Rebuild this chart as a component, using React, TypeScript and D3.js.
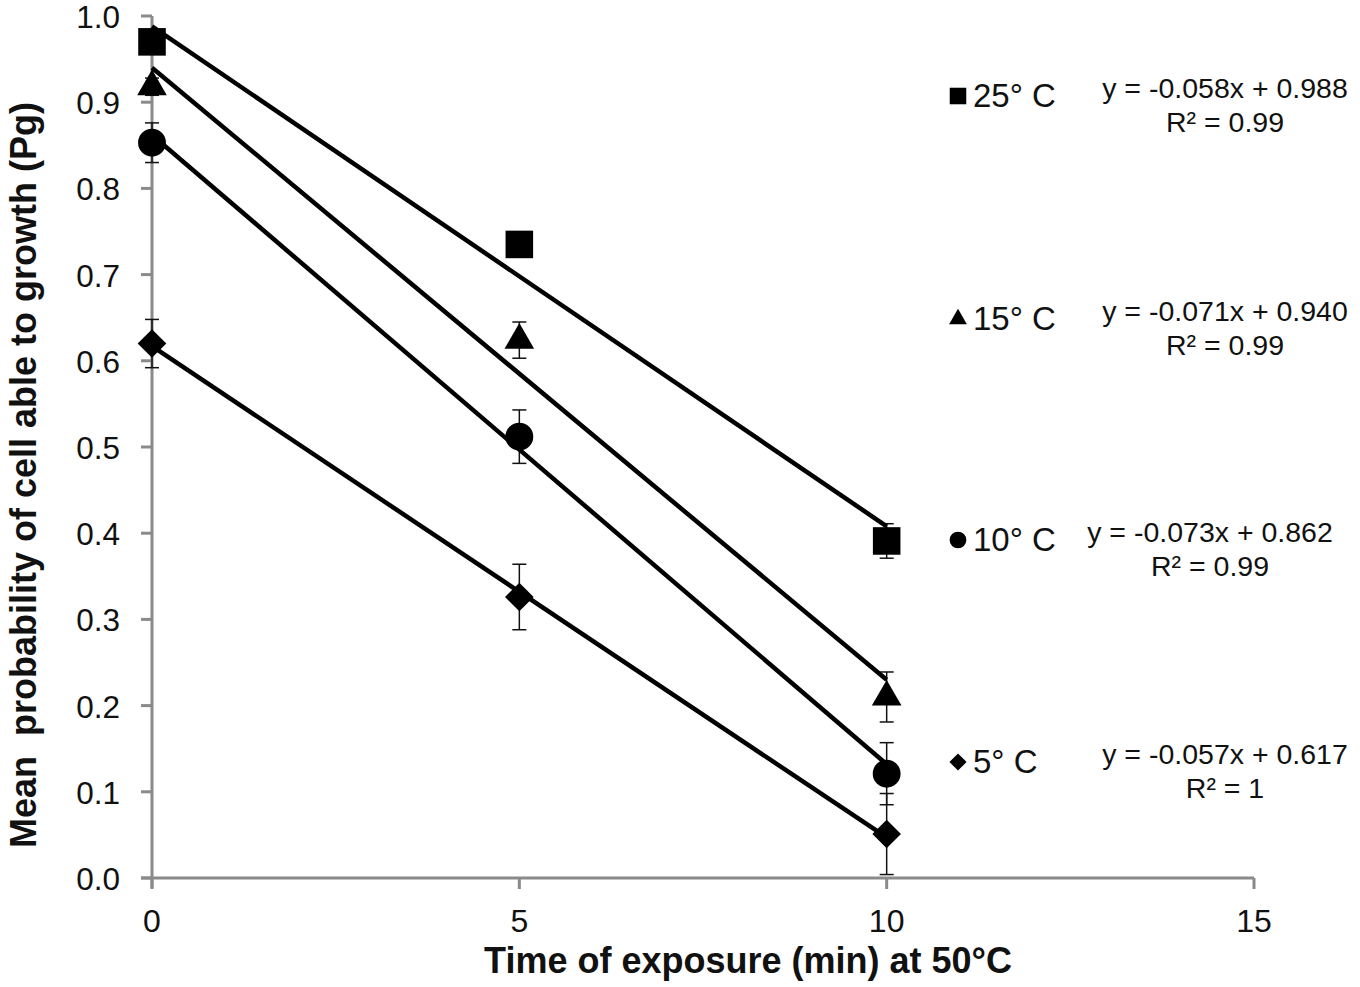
import React from 'react';
import * as d3 from 'd3';

// exposure times (min)
const times = [0, 5, 10];

const seriesNames = ['25° C', '15° C', '10° C', '5° C'];
const seriesShapes = ['square', 'triangle', 'circle', 'diamond'];

// mean Pg per series
const pg25 = [0.970, 0.735, 0.391];
const pg15 = [0.918, 0.624, 0.210];
const pg10 = [0.853, 0.512, 0.121];
const pg5 = [0.620, 0.326, 0.051];

// error bar half-widths
const err25 = [0.01, 0.01, 0.02];
const err15 = [0.01, 0.021, 0.029];
const err10 = [0.023, 0.031, 0.036];
const err5 = [0.028, 0.038, 0.047];

// fitted lines (slope, intercept) and R² as printed
const slopes = [-0.058, -0.071, -0.073, -0.057];
const intercepts = [0.988, 0.940, 0.862, 0.617];
const rSquared = ['0.99', '0.99', '0.99', '1'];

const xTicks = [0, 5, 10, 15];
const yTicks = [0, 0.1, 0.2, 0.3, 0.4, 0.5, 0.6, 0.7, 0.8, 0.9, 1.0];

const W = 1360;
const H = 987;
const FONT = 'Liberation Sans, Arial, sans-serif';
const AXIS = '#8a8a8a';

const values = [pg25, pg15, pg10, pg5];
const errors = [err25, err15, err10, err5];

// where each legend row sits
const legendRows = [
  { y: 96, eqX: 1225 },
  { y: 319, eqX: 1225 },
  { y: 540, eqX: 1210 },
  { y: 762, eqX: 1225 },
];

const fmt3 = (v: number) => d3.format('.3f')(v).replace('\u2212', '-');

function markerPath(shape: string, big: boolean): string {
  const k = big ? 1 : 0.36;
  switch (shape) {
    case 'square':
      return d3.symbol(d3.symbolSquare, 760 * k)()!;
    case 'triangle':
      return d3.symbol(d3.symbolTriangle, 380 * k)()!;
    case 'circle':
      return d3.symbol(d3.symbolCircle, 580 * k * 1.05)()!;
    default:
      return d3.symbol(d3.symbolSquare, 390 * k * 1.05)()!;
  }
}

const Marker: React.FC<{ shape: string; x: number; y: number; big: boolean }> = ({ shape, x, y, big }) => (
  <path
    d={markerPath(shape, big)}
    transform={`translate(${x},${y})${shape === 'diamond' ? ' rotate(45)' : ''}`}
    fill="#000"
  />
);

export default function App() {
  const x = d3.scaleLinear().domain([0, 15]).range([152, 1254]);
  const y = d3.scaleLinear().domain([0, 1]).range([878, 16]);

  return (
    <div style={{ position: 'absolute', left: 0, top: 0, background: '#fff' }}>
      <svg width={W} height={H} style={{ display: 'block' }} fontFamily={FONT}>
        <rect width={W} height={H} fill="#fff" />

        {/* axes */}
        <line x1={x(0)} x2={x(0)} y1={y(0) + 10} y2={y(1)} stroke={AXIS} strokeWidth={3} />
        <line x1={x(0) - 11} x2={x(15)} y1={y(0)} y2={y(0)} stroke={AXIS} strokeWidth={3} />
        {yTicks.map(t => (
          <g key={'y' + t}>
            <line x1={x(0) - 11} x2={x(0)} y1={y(t)} y2={y(t)} stroke={AXIS} strokeWidth={3} />
            <text x={120} y={y(t) + 12} textAnchor="end" fontSize={31.5} fill="#111">
              {d3.format('.1f')(t)}
            </text>
          </g>
        ))}
        {xTicks.map(t => (
          <g key={'x' + t}>
            <line x1={x(t)} x2={x(t)} y1={y(0)} y2={y(0) + 11} stroke={AXIS} strokeWidth={3} />
            <text x={x(t)} y={932} textAnchor="middle" fontSize={32} fill="#111">
              {t}
            </text>
          </g>
        ))}

        {/* axis titles */}
        <text x={748} y={973} textAnchor="middle" fontSize={36} fontWeight="bold" fill="#111">
          Time of exposure (min) at 50°C
        </text>
        <text
          transform={`translate(36,${475}) rotate(-90)`}
          textAnchor="middle"
          fontSize={36}
          fontWeight="bold"
          fill="#111"
          style={{ whiteSpace: 'pre' }}
        >
          {'Mean  probability of cell able to growth (Pg)'}
        </text>

        {/* error bars */}
        {values.map((vals, si) =>
          vals.map((v, i) => {
            const e = errors[si][i];
            const cx = x(times[i]);
            const top = y(v + e);
            const bot = y(Math.max(0, v - e));
            return (
              <g key={`e${si}-${i}`} stroke="#111" strokeWidth={1.5}>
                <line x1={cx} x2={cx} y1={top} y2={bot} />
                <line x1={cx - 7} x2={cx + 7} y1={top} y2={top} />
                <line x1={cx - 7} x2={cx + 7} y1={bot} y2={bot} />
              </g>
            );
          })
        )}

        {/* markers */}
        {values.map((vals, si) =>
          vals.map((v, i) => (
            <Marker key={`m${si}-${i}`} shape={seriesShapes[si]} x={x(times[i])} y={y(v)} big />
          ))
        )}

        {/* linear fits */}
        {slopes.map((s, si) => (
          <line
            key={'f' + si}
            x1={x(0)}
            y1={y(intercepts[si])}
            x2={x(10)}
            y2={y(intercepts[si] + s * 10)}
            stroke="#000"
            strokeWidth={4.5}
          />
        ))}

        {/* legend + equations */}
        {seriesNames.map((name, si) => {
          const row = legendRows[si];
          const eq = `y = ${fmt3(slopes[si])}x + ${fmt3(intercepts[si])}`;
          return (
            <g key={'l' + si}>
              <Marker shape={seriesShapes[si]} x={958} y={row.y} big={false} />
              <text x={973} y={row.y + 11} fontSize={33} fill="#111" style={{ whiteSpace: 'pre' }}>
                {name}
              </text>
              <text x={row.eqX} y={row.y + 2} textAnchor="middle" fontSize={28.5} fill="#111">
                {eq}
              </text>
              <text x={row.eqX} y={row.y + 36} textAnchor="middle" fontSize={28.5} fill="#111">
                {`R² = ${rSquared[si]}`}
              </text>
            </g>
          );
        })}
      </svg>
    </div>
  );
}
